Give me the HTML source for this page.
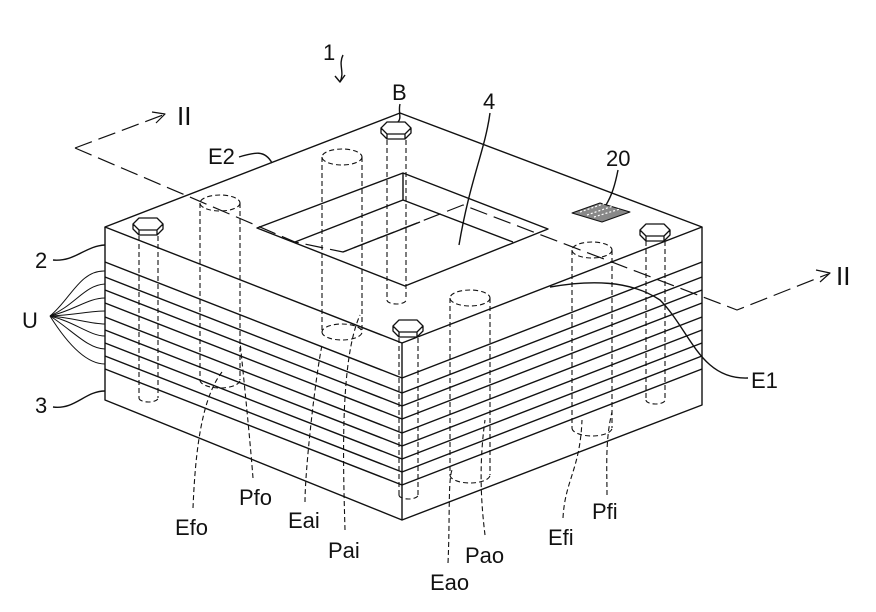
<!DOCTYPE html>
<html><head><meta charset="utf-8"><style>
html,body{margin:0;padding:0;background:#fff;}
svg{display:block;}
text{font-family:"Liberation Sans",sans-serif;fill:#111;}
</style></head><body>
<svg width="876" height="612" viewBox="0 0 876 612" xmlns="http://www.w3.org/2000/svg">
<g stroke="#111" stroke-width="1.4" fill="none" stroke-linejoin="round">
<polygon points="105,227 400,113 702,227 402,343" fill="#fff"/>
<polyline points="105,227 105,400 402,520 702,405 702,227"/>
<line x1="402" y1="343" x2="402" y2="520"/>
<g>
<polyline points="105,262 402,378 702,262"/>
<polyline points="105,277 402,393 702,277"/>
<polyline points="105,290 402,406 702,290"/>
<polyline points="105,303 402,419 702,303"/>
<polyline points="105,317 402,433 702,317"/>
<polyline points="105,330 402,446 702,330"/>
<polyline points="105,343 402,459 702,343"/>
<polyline points="105,356 402,472 702,356"/>
<polyline points="105,369 402,485 702,369"/>
</g>
<polygon points="257,228 403,173 548,229 405,286"/>
<line x1="403" y1="173" x2="403" y2="200"/>
<line x1="403" y1="200" x2="295" y2="242"/>
<line x1="403" y1="200" x2="513" y2="242"/>
<line x1="343" y1="252" x2="420" y2="222"/>
<g stroke-dasharray="18,7" stroke-width="1.2">
<polyline points="75,148 295,242 343,252 463,205 737,310 828,274"/>
<line x1="75" y1="148" x2="163" y2="115"/>
</g>
<polyline points="152,112 165,114 156,123" stroke-width="1.2"/>
<polyline points="816,270 830,273 820,282" stroke-width="1.2"/>
<g stroke-dasharray="5,3" stroke-width="1.1">
<line x1="139" y1="236" x2="139" y2="398"/><line x1="158" y1="236" x2="158" y2="398"/>
<path d="M139,398 a9.5,4 0 0 0 19,0"/>
<line x1="387" y1="140" x2="387" y2="300"/><line x1="406" y1="140" x2="406" y2="300"/>
<path d="M387,300 a9.5,4 0 0 0 19,0"/>
<line x1="399" y1="338" x2="399" y2="495"/><line x1="418" y1="338" x2="418" y2="495"/>
<path d="M399,495 a9.5,4 0 0 0 19,0"/>
<line x1="646" y1="241" x2="646" y2="400"/><line x1="665" y1="241" x2="665" y2="400"/>
<path d="M646,400 a9.5,4 0 0 0 19,0"/>
<ellipse cx="220" cy="203" rx="20" ry="8"/><line x1="200" y1="203" x2="200" y2="380"/><line x1="240" y1="203" x2="240" y2="380"/><path d="M200,380 a20,8 0 0 0 40,0"/>
<ellipse cx="342" cy="157" rx="20" ry="8"/><line x1="322" y1="157" x2="322" y2="332"/><line x1="362" y1="157" x2="362" y2="332"/><path d="M322,332 a20,8 0 0 0 40,0 a20,8 0 0 0 -40,0"/>
<ellipse cx="470" cy="298" rx="20" ry="8"/><line x1="450" y1="298" x2="450" y2="475"/><line x1="490" y1="298" x2="490" y2="475"/><path d="M450,475 a20,8 0 0 0 40,0"/>
<ellipse cx="592" cy="250" rx="20" ry="8"/><line x1="572" y1="250" x2="572" y2="428"/><line x1="612" y1="250" x2="612" y2="428"/><path d="M572,428 a20,8 0 0 0 40,0"/>
<path d="M193,508 C195,460 200,400 222,372"/>
<path d="M253,478 C250,440 245,390 240,342"/>
<path d="M305,502 C305,470 315,380 322,345"/>
<path d="M345,530 C343,460 340,360 360,315"/>
<path d="M448,563 C450,520 448,480 452,470"/>
<path d="M485,535 C482,510 478,470 485,420"/>
<path d="M563,518 C565,480 580,470 582,420"/>
<path d="M607,495 C607,470 605,440 612,412"/>
</g>
<g fill="#fff" stroke-width="1.3">
<g transform="translate(148,227)"><path d="M-15,-3 L-9,-9 L9,-9 L15,-3 L15,2 L9,8 L-9,8 L-15,2 Z M-15,-3 L-9,3 L9,3 L15,-3 M-9,3 L-9,8 M9,3 L9,8"/></g>
<g transform="translate(396,131)"><path d="M-15,-3 L-9,-9 L9,-9 L15,-3 L15,2 L9,8 L-9,8 L-15,2 Z M-15,-3 L-9,3 L9,3 L15,-3 M-9,3 L-9,8 M9,3 L9,8"/></g>
<g transform="translate(408,329)"><path d="M-15,-3 L-9,-9 L9,-9 L15,-3 L15,2 L9,8 L-9,8 L-15,2 Z M-15,-3 L-9,3 L9,3 L15,-3 M-9,3 L-9,8 M9,3 L9,8"/></g>
<g transform="translate(655,233)"><path d="M-15,-3 L-9,-9 L9,-9 L15,-3 L15,2 L9,8 L-9,8 L-15,2 Z M-15,-3 L-9,3 L9,3 L15,-3 M-9,3 L-9,8 M9,3 L9,8"/></g>
</g>
<polygon points="572,213 600,203 630,212 602,222" fill="#888" stroke-width="1"/>
<g stroke="#fff" stroke-width="1.2" stroke-dasharray="2,2">
<line x1="580" y1="212" x2="606" y2="203"/><line x1="587" y1="215" x2="613" y2="206"/><line x1="594" y1="217" x2="620" y2="209"/>
</g>
<path d="M343,55 C338,65 345,72 340,82"/>
<polyline points="335,76 340,82 345,75"/>
<path d="M400,104 C398,112 402,118 398,122"/>
<path d="M490,113 C485,150 470,180 459,245"/>
<path d="M239,157 C255,152 265,150 272,163"/>
<path d="M618,170 C615,185 612,195 606,205"/>
<path d="M748,378 C700,380 690,330 660,300 C630,280 590,280 550,287"/>
<path d="M53,260 C75,262 85,246 105,245"/>
<path d="M53,407 C75,410 85,391 105,391"/>
<g stroke-width="1">
<path d="M50,316 C70,300 80,270 105,271"/>
<path d="M50,316 C75,305 85,285 105,284"/>
<path d="M50,316 C75,310 88,298 105,298"/>
<path d="M50,316 C75,315 90,311 105,311"/>
<path d="M50,316 C75,318 90,324 105,324"/>
<path d="M50,316 C75,322 90,336 105,336"/>
<path d="M50,316 C72,330 88,349 105,349"/>
<path d="M50,316 C65,340 85,364 105,364"/>
</g>
</g>
<g font-size="22">
<text x="323" y="60">1</text>
<text x="392" y="100">B</text>
<text x="483" y="109">4</text>
<text x="208" y="164">E2</text>
<text x="606" y="166">20</text>
<text x="177" y="125" font-family="Liberation Serif" font-size="26">II</text>
<text x="836" y="285" font-family="Liberation Serif" font-size="26">II</text>
<text x="35" y="268">2</text>
<text x="22" y="328">U</text>
<text x="35" y="413">3</text>
<text x="751" y="388">E1</text>
<text x="239" y="505">Pfo</text>
<text x="175" y="535">Efo</text>
<text x="288" y="528">Eai</text>
<text x="328" y="558">Pai</text>
<text x="430" y="590">Eao</text>
<text x="465" y="563">Pao</text>
<text x="548" y="545">Efi</text>
<text x="592" y="519">Pfi</text>
</g>
</svg>
</body></html>
